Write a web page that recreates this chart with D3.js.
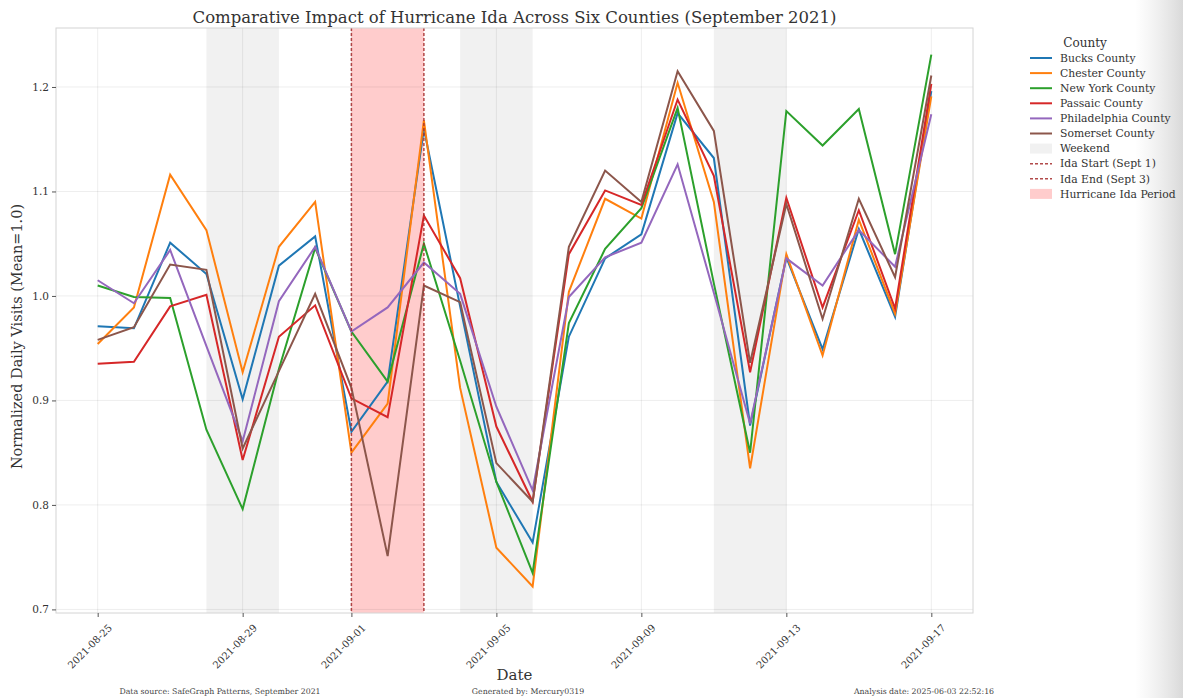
<!DOCTYPE html>
<html>
<head>
<meta charset="utf-8">
<script src="https://cdn.jsdelivr.net/npm/d3@7"></script>
<style>
  html, body { margin: 0; padding: 0; background: #ffffff; }
  svg { display: block; font-family: "DejaVu Serif", "Liberation Serif", serif; }
</style>
</head>
<body>
<svg id="chart" width="1183" height="698"></svg>
<script>
// ---- Data: normalized daily visits per county (mean = 1.0) ----
const dates = [
  "2021-08-25","2021-08-26","2021-08-27","2021-08-28","2021-08-29","2021-08-30",
  "2021-08-31","2021-09-01","2021-09-02","2021-09-03","2021-09-04","2021-09-05",
  "2021-09-06","2021-09-07","2021-09-08","2021-09-09","2021-09-10","2021-09-11",
  "2021-09-12","2021-09-13","2021-09-14","2021-09-15","2021-09-16","2021-09-17"
];
const bucks        = [0.971,0.969,1.051,1.021,0.901,1.029,1.057,0.870,0.918,1.160,0.990,0.822,0.764,0.961,1.036,1.059,1.175,1.132,0.876,1.037,0.949,1.064,0.980,1.196];
const chester      = [0.954,0.989,1.116,1.063,0.927,1.047,1.090,0.850,0.897,1.168,0.912,0.759,0.722,1.004,1.093,1.074,1.204,1.090,0.835,1.040,0.943,1.073,0.983,1.191];
const newYork      = [1.010,0.999,0.998,0.872,0.796,0.930,1.046,0.966,0.918,1.050,0.938,0.822,0.735,0.974,1.045,1.084,1.180,1.012,0.850,1.177,1.144,1.179,1.040,1.231];
const passaic      = [0.935,0.937,0.990,1.001,0.843,0.961,0.991,0.902,0.884,1.077,1.017,0.875,0.803,1.040,1.101,1.087,1.188,1.115,0.927,1.094,0.989,1.082,0.988,1.203];
const philadelphia = [1.015,0.993,1.044,0.952,0.861,0.995,1.047,0.966,0.989,1.032,1.002,0.894,0.814,0.999,1.037,1.051,1.126,1.003,0.878,1.036,1.010,1.063,1.028,1.174];
const somerset     = [0.958,0.970,1.030,1.025,0.854,0.928,1.002,0.912,0.751,1.010,0.994,0.840,0.803,1.047,1.120,1.090,1.215,1.158,0.936,1.088,0.978,1.093,1.018,1.211];

const counties = ["Bucks County","Chester County","New York County","Passaic County","Philadelphia County","Somerset County"];
const seriesValues = [bucks, chester, newYork, passaic, philadelphia, somerset];
const colors = ["#1f77b4","#ff7f0e","#2ca02c","#d62728","#9467bd","#8c564b"];

const weekendDays = ["2021-08-28","2021-08-29","2021-09-04","2021-09-05","2021-09-11","2021-09-12"];
const idaStart = "2021-09-01";
const idaEnd = "2021-09-03";

const xTickLabels = ["2021-08-25","2021-08-29","2021-09-01","2021-09-05","2021-09-09","2021-09-13","2021-09-17"];
const yTickLabels = [0.7, 0.8, 0.9, 1.0, 1.1, 1.2];

const legendExtras = ["Weekend","Ida Start (Sept 1)","Ida End (Sept 3)","Hurricane Ida Period"];

// ---- Layout ----
const svg = d3.select("#chart");
const W = 1183, H = 698;
const plot = { left: 56, right: 973, top: 28, bottom: 613 };
const parse = d3.utcParse("%Y-%m-%d");
const DAY = 864e5;

const dateObjs = dates.map(parse);
const [d0, d1] = d3.extent(dateObjs);
const padT = (d1 - d0) * 0.05;
const x = d3.scaleUtc()
  .domain([new Date(+d0 - padT), new Date(+d1 + padT)])
  .range([plot.left, plot.right]);

const allVals = seriesValues.flat();
const [vMin, vMax] = d3.extent(allVals);
const padV = (vMax - vMin) * 0.05;
const y = d3.scaleLinear()
  .domain([vMin - padV, vMax + padV])
  .range([plot.bottom, plot.top]);

// soft grey fade along the right edge of the figure
const defs = svg.append("defs");
const fade = defs.append("linearGradient").attr("id", "edgeFade")
  .attr("x1", "0").attr("x2", "1").attr("y1", "0").attr("y2", "0");
fade.append("stop").attr("offset", "0").attr("stop-color", "#e4e4e4").attr("stop-opacity", 0);
fade.append("stop").attr("offset", "1").attr("stop-color", "#d9d9d9").attr("stop-opacity", 1);
defs.append("clipPath").attr("id", "plotClip").append("rect")
  .attr("x", plot.left).attr("y", plot.top)
  .attr("width", plot.right - plot.left).attr("height", plot.bottom - plot.top);

svg.append("rect").attr("x", 1135).attr("y", 0).attr("width", W - 1135).attr("height", H)
  .attr("fill", "url(#edgeFade)");

const g = svg.append("g");

// weekend shading (each weekend day spans one day)
g.append("g").selectAll("rect").data(weekendDays).join("rect")
  .attr("x", d => x(parse(d)))
  .attr("width", d => x(new Date(+parse(d) + DAY)) - x(parse(d)))
  .attr("y", plot.top).attr("height", plot.bottom - plot.top)
  .attr("fill", "#808080").attr("fill-opacity", 0.11);

// hurricane period
g.append("rect")
  .attr("x", x(parse(idaStart)))
  .attr("width", x(parse(idaEnd)) - x(parse(idaStart)))
  .attr("y", plot.top).attr("height", plot.bottom - plot.top)
  .attr("fill", "#ff0000").attr("fill-opacity", 0.2);

// grid
const tickDates = xTickLabels.map(parse);
g.append("g").selectAll("line").data(tickDates).join("line")
  .attr("x1", d => x(d)).attr("x2", d => x(d))
  .attr("y1", plot.top).attr("y2", plot.bottom)
  .attr("stroke", "#000").attr("stroke-opacity", 0.07).attr("stroke-width", 1);
g.append("g").selectAll("line").data(yTickLabels).join("line")
  .attr("x1", plot.left).attr("x2", plot.right)
  .attr("y1", d => y(d)).attr("y2", d => y(d))
  .attr("stroke", "#000").attr("stroke-opacity", 0.07).attr("stroke-width", 1);

// series lines
const line = d3.line().x((d, i) => x(dateObjs[i])).y(d => y(d));
g.append("g").attr("clip-path", "url(#plotClip)")
  .selectAll("path").data(seriesValues).join("path")
  .attr("d", line)
  .attr("fill", "none")
  .attr("stroke", (d, i) => colors[i])
  .attr("stroke-width", 2)
  .attr("stroke-linejoin", "miter");

// Ida start / end markers
g.append("g").selectAll("line").data([idaStart, idaEnd]).join("line")
  .attr("x1", d => x(parse(d))).attr("x2", d => x(parse(d)))
  .attr("y1", plot.top).attr("y2", plot.bottom)
  .attr("stroke", "#a52a2a").attr("stroke-opacity", 0.85)
  .attr("stroke-width", 1.5).attr("stroke-dasharray", "3,2");

// frame
g.append("rect")
  .attr("x", plot.left).attr("y", plot.top)
  .attr("width", plot.right - plot.left).attr("height", plot.bottom - plot.top)
  .attr("fill", "none").attr("stroke", "#d4d4d4").attr("stroke-width", 1);

// axes
const xAxis = d3.axisBottom(x).tickValues(tickDates).tickSize(4).tickFormat(d3.utcFormat("%Y-%m-%d"));
const xg = svg.append("g").attr("transform", `translate(0,${plot.bottom})`).call(xAxis);
xg.select(".domain").remove();
xg.selectAll(".tick line").attr("stroke", "#555");
xg.selectAll(".tick text")
  .attr("font-family", "DejaVu Serif").attr("font-size", 10).attr("fill", "#333")
  .attr("text-anchor", "end")
  .attr("transform", "translate(6,7) rotate(-45)")
  .attr("dy", "0.5em").attr("dx", "0");

const yAxis = d3.axisLeft(y).tickValues(yTickLabels).tickSize(4).tickFormat(d3.format(".1f"));
const yg = svg.append("g").attr("transform", `translate(${plot.left},0)`).call(yAxis);
yg.select(".domain").remove();
yg.selectAll(".tick line").attr("stroke", "#555");
yg.selectAll(".tick text")
  .attr("font-family", "DejaVu Serif").attr("font-size", 10.5).attr("fill", "#333");

// titles
svg.append("text").attr("x", (plot.left + plot.right) / 2).attr("y", 23)
  .attr("text-anchor", "middle").attr("font-size", 16.5).attr("fill", "#333")
  .text("Comparative Impact of Hurricane Ida Across Six Counties (September 2021)");
svg.append("text").attr("transform", `translate(22,${(plot.top + plot.bottom) / 2 + 16}) rotate(-90)`)
  .attr("text-anchor", "middle").attr("font-size", 14.5).attr("fill", "#333")
  .text("Normalized Daily Visits (Mean=1.0)");
svg.append("text").attr("x", (plot.left + plot.right) / 2).attr("y", 680)
  .attr("text-anchor", "middle").attr("font-size", 15).attr("fill", "#333")
  .text("Date");

// footer notes
const foot = [
  ["Data source: SafeGraph Patterns, September 2021", 220],
  ["Generated by: Mercury0319", 528],
  ["Analysis date: 2025-06-03 22:52:16", 924]
];
svg.append("g").selectAll("text").data(foot).join("text")
  .attr("x", d => d[1]).attr("y", 694)
  .attr("text-anchor", "middle").attr("font-size", 7.8).attr("fill", "#444")
  .text(d => d[0]);

// legend
const lg = svg.append("g").attr("transform", "translate(1030,0)");
lg.append("text").attr("x", 55).attr("y", 47).attr("text-anchor", "middle")
  .attr("font-size", 12).attr("fill", "#333").text("County");
const rowY = i => 58 + i * 15.1;
counties.forEach((name, i) => {
  lg.append("line").attr("x1", 0).attr("x2", 22).attr("y1", rowY(i)).attr("y2", rowY(i))
    .attr("stroke", colors[i]).attr("stroke-width", 2);
  lg.append("text").attr("x", 30).attr("y", rowY(i)).attr("dy", "0.35em")
    .attr("font-size", 10.8).attr("fill", "#333").text(name);
});
legendExtras.forEach((name, j) => {
  const i = counties.length + j;
  const yy = rowY(i);
  if (j === 0) {
    lg.append("rect").attr("x", 0).attr("y", yy - 5).attr("width", 22).attr("height", 10)
      .attr("fill", "#808080").attr("fill-opacity", 0.11);
  } else if (j === 3) {
    lg.append("rect").attr("x", 0).attr("y", yy - 5).attr("width", 22).attr("height", 10)
      .attr("fill", "#ff0000").attr("fill-opacity", 0.2);
  } else {
    lg.append("line").attr("x1", 0).attr("x2", 22).attr("y1", yy).attr("y2", yy)
      .attr("stroke", "#a52a2a").attr("stroke-opacity", 0.85)
      .attr("stroke-width", 1.5).attr("stroke-dasharray", "3,2");
  }
  lg.append("text").attr("x", 30).attr("y", yy).attr("dy", "0.35em")
    .attr("font-size", 10.8).attr("fill", "#333").text(name);
});
</script>
</body>
</html>
